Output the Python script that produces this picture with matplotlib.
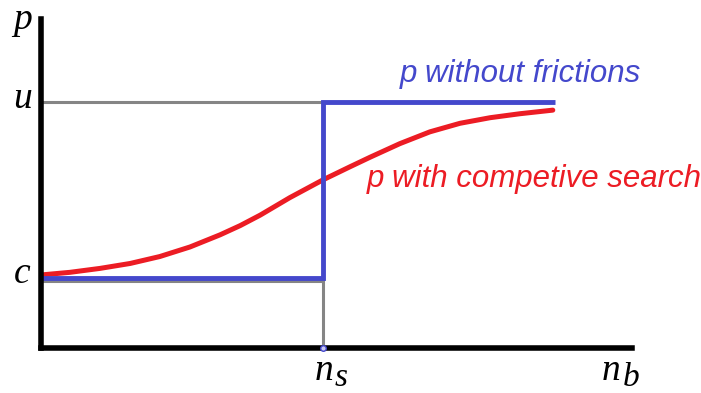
import numpy as np
import matplotlib.pyplot as plt

# levels and switch point (axis units, 0..1)
c_level = 0.213
u_level = 0.748
n_s = 0.477
n_end = 0.87

# p without frictions (step)
blue_x = [0, n_s, n_s, n_end]
blue_y = [c_level, c_level, u_level, u_level]

# p with competitive search
red_x = [0.0, 0.049, 0.100, 0.151, 0.201, 0.252, 0.303, 0.337, 0.371, 0.421,
         0.477, 0.523, 0.557, 0.607, 0.658, 0.709, 0.760, 0.810, 0.866]
red_y = [0.222, 0.230, 0.242, 0.257, 0.278, 0.307, 0.344, 0.372, 0.404, 0.457,
         0.511, 0.551, 0.580, 0.621, 0.657, 0.683, 0.700, 0.712, 0.723]

blue = '#4448cc'
red = '#ec1c24'
grey = '#858585'

fig = plt.figure(figsize=(7.01, 3.93), dpi=100)
ax = fig.add_axes([41 / 701, 45 / 393, 591 / 701, 329 / 393])
ax.set_xlim(0, 1)
ax.set_ylim(0, 1)

# guide lines
ax.plot([0, n_s], [u_level, u_level], color=grey, lw=2.2, solid_capstyle='butt')
ax.plot([0, n_s], [c_level - 0.008, c_level - 0.008], color=grey, lw=2.2, solid_capstyle='butt')
ax.plot([n_s, n_s], [0, c_level], color=grey, lw=2.2, solid_capstyle='butt')

ax.plot(red_x, red_y, color=red, lw=3.6, solid_capstyle='round', solid_joinstyle='round')
ax.plot(blue_x, blue_y, color=blue, lw=3.5, solid_capstyle='butt', solid_joinstyle='miter')
ax.plot([n_s], [0], marker='o', ms=4, mfc='#c8c8f0', mec=blue, mew=1, clip_on=False, zorder=5)

ax.text(0.607, 0.809, 'p without frictions', color=blue, fontsize=22.5,
        family='Liberation Sans', style='italic', va='baseline', ha='left')
ax.text(0.552, 0.489, 'p with competive search', color=red, fontsize=22.5,
        family='Liberation Sans', style='italic', va='baseline', ha='left')

# axis labels
lab = dict(family='Liberation Serif', style='italic', va='baseline', ha='left')
ax.text(-0.032, 0.970, 'p', fontsize=27, **{**lab, 'ha': 'center'})
ax.text(-0.032, 0.729, 'u', fontsize=27, **{**lab, 'ha': 'center'})
ax.text(-0.032, 0.198, 'c', fontsize=27, **{**lab, 'ha': 'center'})
ax.text(0.463, -0.097, 'n', fontsize=27, **lab)
ax.text(0.497, -0.117, 's', fontsize=24, **lab)
ax.text(0.949, -0.097, 'n', fontsize=27, **lab)
ax.text(0.985, -0.117, 'b', fontsize=24, **lab)

for s in ['top', 'right']:
    ax.spines[s].set_visible(False)
for s in ['left', 'bottom']:
    ax.spines[s].set_linewidth(4)
ax.set_xticks([])
ax.set_yticks([])

fig.savefig('out.png', dpi=100)
